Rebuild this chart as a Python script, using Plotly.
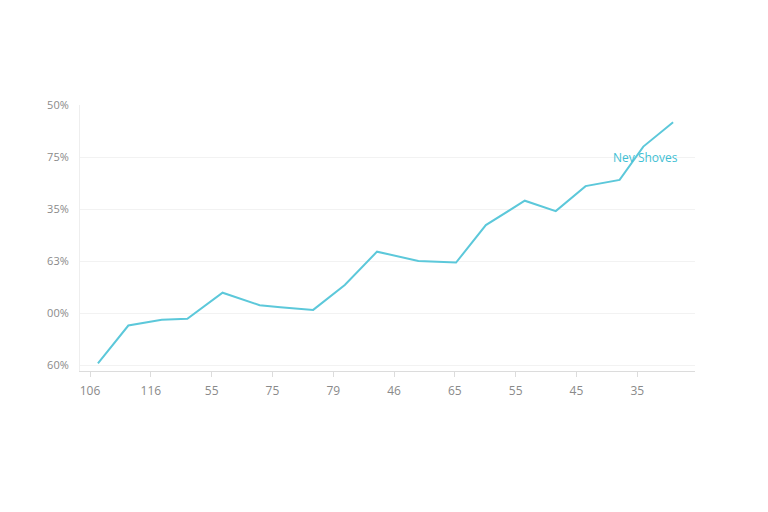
"""
Line chart of share growth over the period, with a single annotated series.
"""

import plotly.graph_objects as go

# category labels along the bottom axis
x_labels = ['106', '116', '55', '75', '79', '46', '65', '55', '45', '35']
x_ticks = list(range(len(x_labels)))

# y axis tick labels (as printed in the chart)
y_labels = ['60%', '00%', '63%', '35%', '75%', '50%']
y_ticks = [0, 1, 2, 3, 4, 5]

# series points, positions measured in category units
series_x = [0.13, 0.63, 1.18, 1.60, 2.18, 2.79, 3.13, 3.67, 4.19, 4.72,
            5.40, 6.02, 6.51, 7.15, 7.66, 8.15, 8.71, 9.10, 9.59]
series_y = [0.03, 0.76, 0.87, 0.89, 1.39, 1.15, 1.11, 1.06, 1.54, 2.18,
            2.00, 1.97, 2.69, 3.16, 2.96, 3.44, 3.56, 4.20, 4.67]

series_name = 'Nev Shoves'
line_color = '#5cc8da'

fig = go.Figure()

fig.add_trace(go.Scatter(
    x=series_x,
    y=series_y,
    mode='lines',
    name=series_name,
    line=dict(color=line_color, width=2),
))

# label sitting on the line near its end
fig.add_annotation(
    x=9.13, y=4.0,
    text=series_name,
    showarrow=False,
    font=dict(color='#3fbfd4', size=12, family='Open Sans'),
)

fig.update_layout(
    width=768,
    height=512,
    plot_bgcolor='white',
    paper_bgcolor='white',
    showlegend=False,
    # page body adds 8px, so margins are trimmed to keep the plot in place
    margin=dict(l=72, r=81, t=97, b=149),
    font=dict(family='Open Sans', size=12, color='#8a8a8a'),
)

fig.update_xaxes(
    range=[-0.165, 9.95],
    tickvals=x_ticks,
    ticktext=x_labels,
    showgrid=False,
    zeroline=False,
    showline=True,
    linecolor='#dcdcdc',
    ticks='outside',
    ticklen=5,
    tickcolor='#dcdcdc',
    ticklabelstandoff=4,
    tickfont=dict(size=12, color='#8a8a8a'),
)
fig.update_yaxes(
    range=[-0.115, 5.0],
    tickvals=y_ticks,
    ticktext=y_labels,
    showgrid=True,
    gridcolor='#f2f2f2',
    zeroline=False,
    showline=True,
    linecolor='#eeeeee',
    ticks='',
    ticklabelstandoff=8,
    tickfont=dict(size=11, color='#8a8a8a'),
)

fig.write_html("out.html")
